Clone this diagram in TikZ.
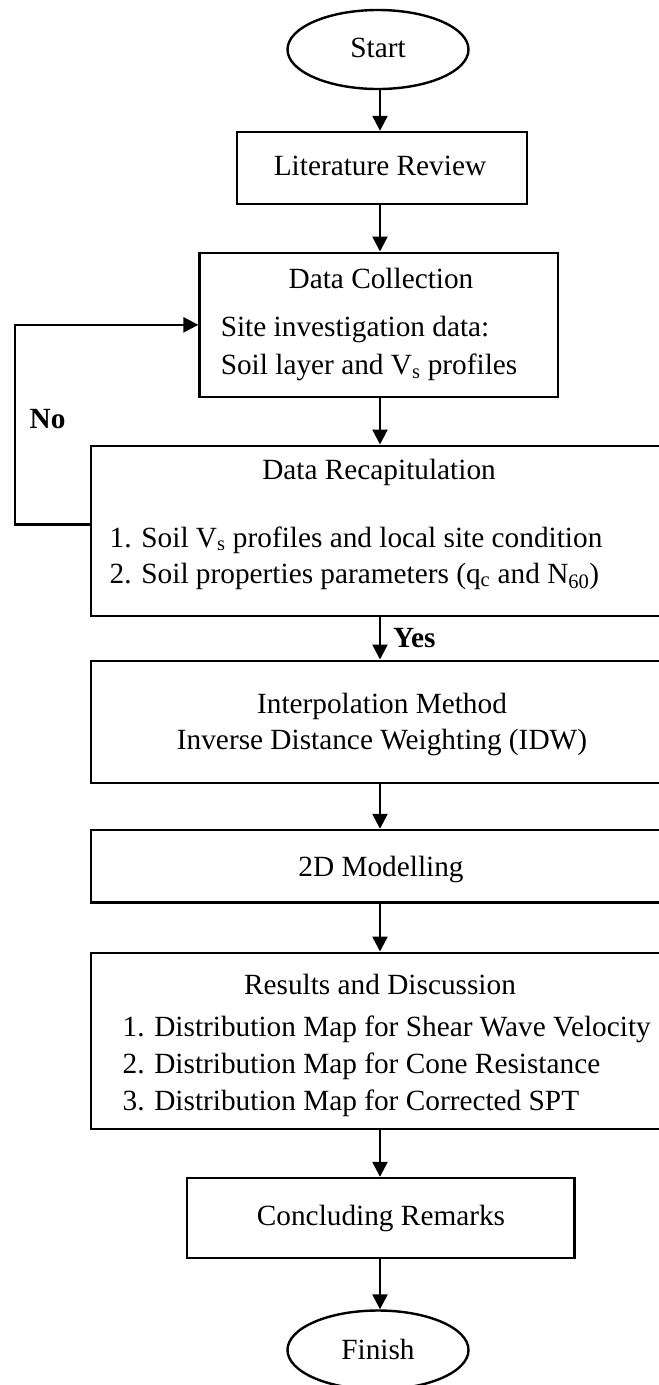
\documentclass[tikz,border=0pt]{standalone}
\usepackage{fontspec}
\setmainfont{Liberation Serif}
\usetikzlibrary{arrows.meta,shapes.geometric}
\begin{document}
\begin{tikzpicture}[x=1pt,y=-1pt,
  box/.style={draw, line width=2.4pt, inner sep=0pt},
  oval/.style={draw, ellipse, line width=2.4pt, inner sep=0pt, minimum width=181pt, minimum height=79pt},
  txt/.style={inner sep=0pt, font=\fontsize{29.3}{35}\selectfont},
  ctxt/.style={txt, anchor=base},
  ltxt/.style={txt, anchor=base west},
  arr/.style={-{Triangle[width=15pt,length=15pt]}, line width=2.4pt},
]
\useasboundingbox (0,0) rectangle (659,1385);
\begin{scope}
\clip (0,0) rectangle (659,1385);
% shapes
\node[oval] (start) at (378,49.5) {};
\node[box, minimum width=290pt, minimum height=72pt] (lr) at (381.7,168) {};
\node[box, minimum width=358.4pt, minimum height=144.3pt] (dc) at (378.8,324.85) {};
\node[box, minimum width=589pt, minimum height=170.3pt] (recap) at (385.5,530.85) {};
\node[box, minimum width=589pt, minimum height=122pt] (interp) at (385.5,721.7) {};
\node[box, minimum width=589pt, minimum height=72.3pt] (model) at (385.5,866.15) {};
\node[box, minimum width=589pt, minimum height=176.3pt] (results) at (385.5,1040.85) {};
\node[box, minimum width=387.6pt, minimum height=80pt] (concl) at (380.5,1218) {};
\node[oval] (finish) at (378,1350) {};
\coordinate (ax) at (380,0);
\coordinate (fb) at (14.7,524.5);
% texts
\node[ctxt] (tstart) at (378,57) {Start};
\node[ctxt] (tlr) at (380,175) {Literature Review};
\node[ctxt] (tdc) at (381,288) {Data Collection};
\node[ltxt] (tdc1) at (220.6,336) {Site investigation data:};
\node[ltxt] (tdc2) at (220.6,374.5) {Soil layer and V\textsubscript{s} profiles};
\node[ctxt] (trc) at (379,479) {Data Recapitulation};
\node[ltxt] (trc1) at (109.5,547) {1. Soil V\textsubscript{s} profiles and local site condition};
\node[ltxt] (trc2) at (109.5,583) {2. Soil properties parameters (q\textsubscript{c} and N\textsubscript{60})};
\node[ctxt] (tip1) at (382,713.3) {Interpolation Method};
\node[ctxt] (tip2) at (382,749.3) {Inverse Distance Weighting (IDW)};
\node[ctxt] (tmd) at (381,876) {2D Modelling};
\node[ctxt] (trs) at (380,994) {Results and Discussion};
\node[ltxt] (trs1) at (122.4,1036.7) {1. Distribution Map for Shear Wave Velocity};
\node[ltxt] (trs2) at (122.4,1073.3) {2. Distribution Map for Cone Resistance};
\node[ltxt] (trs3) at (122.4,1110) {3. Distribution Map for Corrected SPT};
\node[ctxt] (tcr) at (381,1225) {Concluding Remarks};
\node[ctxt] (tfin) at (378,1359.3) {Finish};
\node[ltxt, font=\fontsize{29.3}{35}\selectfont\bfseries] (no) at (29.4,428.3) {No};
\node[ltxt, font=\fontsize{29.3}{35}\selectfont\bfseries] (yes) at (393,647) {Yes};
% connectors
\draw[arr] (start.south -| ax) -- (lr.north -| ax);
\draw[arr] (lr.south -| ax) -- (dc.north -| ax);
\draw[arr] (dc.south -| ax) -- (recap.north -| ax);
\draw[arr] (recap.south -| ax) -- (interp.north -| ax);
\draw[arr] (interp.south -| ax) -- (model.north -| ax);
\draw[arr] (model.south -| ax) -- (results.north -| ax);
\draw[arr] (results.south -| ax) -- (concl.north -| ax);
\draw[arr] (concl.south -| ax) -- (finish.north -| ax);
\draw[arr] (recap.west |- fb) -- (fb) |- (dc.west);
\end{scope}
\end{tikzpicture}
\end{document}
